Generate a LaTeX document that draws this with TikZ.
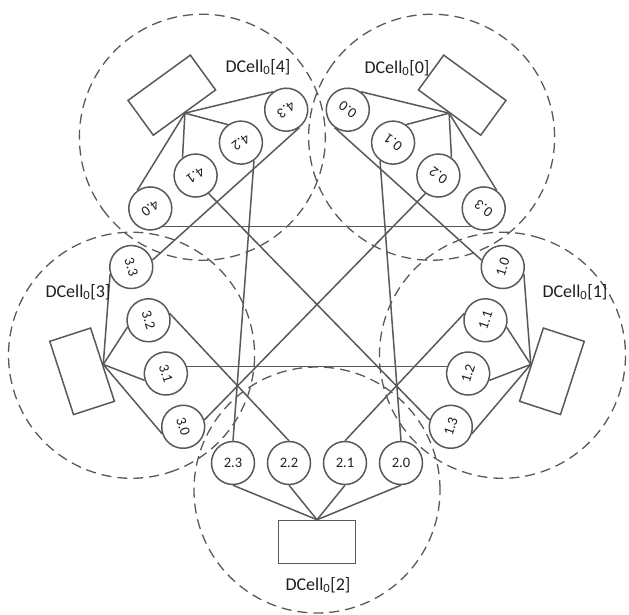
\documentclass[tikz,border=0pt]{standalone}
\usepackage{fontspec}
\setmainfont{Carlito}
\usetikzlibrary{positioning}
\definecolor{linegray}{RGB}{89,89,89}
\definecolor{textgray}{RGB}{30,30,30}

\begin{document}
\begin{tikzpicture}[x=1pt,y=1pt,
  cellring/.style={draw=linegray,line width=1.3pt,dash pattern=on 10pt off 6pt},
  server/.style={circle,draw=linegray,line width=1.5pt,minimum size=43pt,inner sep=0pt,
    text=textgray,font=\fontsize{14.5}{14.5}\selectfont},
  switch/.style={rectangle,draw=linegray,line width=1.5pt,minimum width=77pt,minimum height=43pt,inner sep=0pt},
  link/.style={draw=linegray,line width=1.5pt},
  celllabel/.style={text=textgray,font=\fontsize{18}{18}\selectfont}]
  \useasboundingbox (-317,-320) rectangle (312,295);
  % the five DCell_0, each one turned to face the centre
  \foreach \i in {0,...,4}{
    \pgfmathsetmacro{\ang}{54-72*\i}
    \pgfmathsetmacro{\rot}{\ang+90}
    \begin{scope}[shift={(\ang:195)},rotate=\rot,transform shape]
      \draw[cellring] (0,0) circle (123);
      \node[switch] (sw\i) at (0,-52) {};
      \foreach \j/\x in {0/84,1/28,2/-28,3/-84}
        \node[server] (s\i\j) at (\x,27) {\i.\j};
    \end{scope}
  }
  % server to switch
  \foreach \i in {0,...,4}
    \foreach \j in {0,...,3}
      \draw[link] (sw\i.north) -- (s\i\j.south);
  % level-1 links between the cells
  \foreach \a/\b in {00/10,01/20,02/30,03/40,11/21,12/31,13/41,22/32,23/42,33/43}
    \draw[link] (s\a.north) -- (s\b.north);
  % cell names
  \node[celllabel] (lab0) at (80,227) {DCell\textsubscript{0}[0]};
  \node[celllabel] (lab1) at (258,3) {DCell\textsubscript{0}[1]};
  \node[celllabel] (lab2) at (1,-290) {DCell\textsubscript{0}[2]};
  \node[celllabel] (lab3) at (-239,3) {DCell\textsubscript{0}[3]};
  \node[celllabel] (lab4) at (-59,228) {DCell\textsubscript{0}[4]};
\end{tikzpicture}
\end{document}
